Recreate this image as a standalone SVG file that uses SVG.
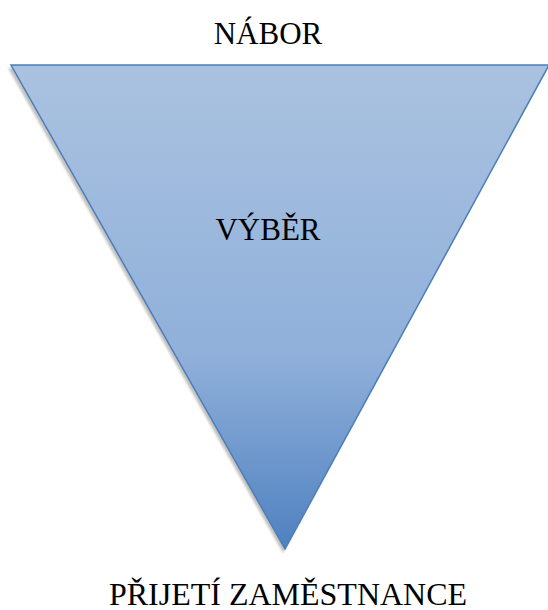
<svg xmlns="http://www.w3.org/2000/svg" width="548" height="610" viewBox="0 0 548 610">
<style>
.lbl{font-family:"Liberation Serif","Times New Roman",serif;font-size:31px;fill:#000;text-anchor:middle}
</style>
<defs>
<linearGradient id="g" x1="0" y1="0" x2="0" y2="1">
<stop offset="0" stop-color="#aac2e0"/>
<stop offset="0.6" stop-color="#90b0da"/>
<stop offset="1" stop-color="#4f81c0"/>
</linearGradient>
<filter id="sh" x="-10%" y="-10%" width="120%" height="120%">
<feGaussianBlur stdDeviation="1.2"/>
</filter>
</defs>
<g id="funnel">
<polygon points="8,68 546,68 283,553" fill="#9a9a9a" opacity="0.6" filter="url(#sh)"/>
<polygon points="11,65 549,65 285,549" fill="url(#g)" stroke="#4a7ebb" stroke-width="1.5"/>
</g>
<g id="nabor"><text class="lbl" x="268" y="44">NÁBOR</text></g>
<g id="vyber"><text class="lbl" x="268" y="240">VÝBĚR</text></g>
<g id="prijeti"><text class="lbl" x="288" y="605" style="font-size:32px">PŘIJETÍ ZAMĚSTNANCE</text></g>
</svg>
